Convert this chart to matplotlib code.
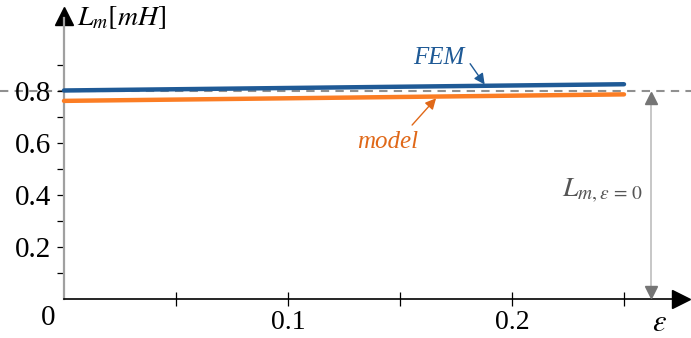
import matplotlib
matplotlib.use("Agg")
import matplotlib.pyplot as plt
import numpy as np

eps = [0.0, 0.25]
fem = [0.802, 0.826]
model = [0.762, 0.787]
L0 = 0.8
xticks_major = [0.1, 0.2]
xticks_minor = [0.05, 0.15, 0.25]
yticks_major = [0.2, 0.4, 0.6, 0.8]
yticks_minor = [0.1, 0.3, 0.5, 0.7, 0.9]

plt.rcParams['font.family'] = ['Liberation Serif', 'DejaVu Serif']
plt.rcParams['mathtext.fontset'] = 'stix'

fig = plt.figure(figsize=(6.91, 3.38), dpi=100)
ax = fig.add_axes([0, 0, 1, 1])
ax.set_xlim(-64 / 2240, 627 / 2240)
ax.set_ylim(-39 / 260, 299 / 260)
ax.patch.set_visible(False)

for s in ['top', 'right']:
    ax.spines[s].set_visible(False)
ax.spines['left'].set_position(('data', 0))
ax.spines['bottom'].set_position(('data', 0))
ax.spines['left'].set_color('#a0a0a0')
ax.spines['left'].set_linewidth(1.6)
ax.spines['bottom'].set_color('black')
ax.spines['bottom'].set_linewidth(1.2)
ax.spines['left'].set_bounds(0, 1.08)
ax.spines['bottom'].set_bounds(0, 0.275)

ax.set_xticks(xticks_major)
ax.set_xticks(xticks_minor, minor=True)
ax.set_yticks(yticks_major)
ax.set_yticks(yticks_minor, minor=True)
ax.set_xticklabels([f"{v:.1f}" for v in xticks_major])
ax.set_yticklabels([f"{v:.1f}" for v in yticks_major])
ax.tick_params(axis='x', which='both', direction='inout', length=10, width=0.9,
               color='black', labelsize=20, pad=3)
ax.tick_params(axis='y', which='both', direction='out', length=5, width=0.9,
               color='black', labelsize=21, pad=4)

# axis arrowheads
ax.plot([0], [1.09], marker='^', color='black', markersize=13, clip_on=False)
ax.plot([0.2755], [0], marker='>', color='black', markersize=13, clip_on=False)

# reference dashed line
ax.axhline(L0, color='#909090', lw=1.5, ls=(0, (4, 3)), zorder=1)

# data
ax.plot(eps, fem, color='#1f5a96', lw=3.2, solid_capstyle='round', zorder=3)
ax.plot(eps, model, color='#fb7d24', lw=3.2, solid_capstyle='round', zorder=3)

# annotations
ax.text(0.1675, 0.927, 'FEM', color='#1f5a96', fontsize=18, style='italic',
        ha='center', va='center')
ax.annotate('', xy=(0.1878, 0.825), xytext=(0.1813, 0.905),
            arrowprops=dict(arrowstyle='-|>', color='#1f5a96', lw=1.0,
                            mutation_scale=16, shrinkA=0, shrinkB=0))
ax.text(0.1446, 0.604, 'model', color='#e06818', fontsize=18, style='italic',
        ha='center', va='center')
ax.annotate('', xy=(0.1661, 0.772), xytext=(0.1554, 0.669),
            arrowprops=dict(arrowstyle='-|>', color='#e06818', lw=1.0,
                            mutation_scale=16, shrinkA=0, shrinkB=0))

# L_m,eps=0 double arrow
ax.plot([0.2621, 0.2621], [0.03, L0 - 0.03], color='#bdbdbd', lw=1.2, zorder=2)
ax.plot([0.2621], [L0 - 0.028], marker='^', color='#757575', markersize=9, zorder=3)
ax.plot([0.2621], [0.028], marker='v', color='#757575', markersize=9, zorder=3)
ax.text(0.2585, 0.415, r'$L_{m,\varepsilon\,=\,0}$', color='#555555', fontsize=20,
        ha='right', va='center')

# labels
ax.text(0.006, 1.08, r'$L_m[mH]$', fontsize=20, ha='left', va='center')
ax.text(0.2660, -0.095, r'$\varepsilon$', fontsize=22, ha='center', va='center')
ax.text(-0.0071, -0.073, '0', fontsize=21, ha='center', va='center')

fig.savefig('out.png', dpi=100)
